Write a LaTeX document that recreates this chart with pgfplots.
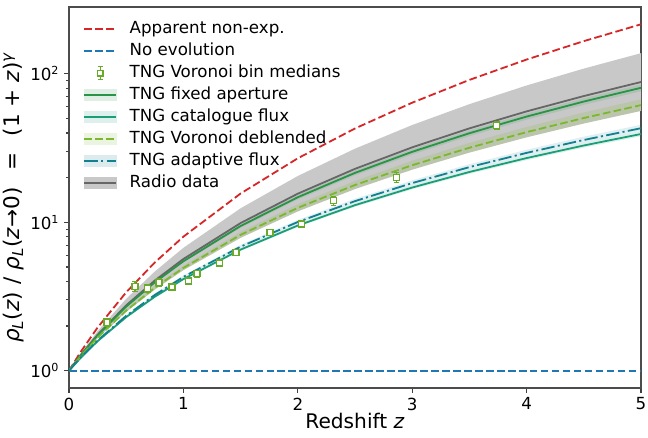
\documentclass[border=0pt]{standalone}
\usepackage{fontspec}
\setmainfont{DejaVu Sans}
\usepackage{pgfplots}
\usepackage{pgfplotstable}
\pgfplotsset{compat=1.18}
\usepgfplotslibrary{fillbetween}

\definecolor{cred}{HTML}{D62728}
\definecolor{cblue}{HTML}{1F77B4}
\definecolor{cmed}{HTML}{6AAA2A}
\definecolor{cfa}{HTML}{2A9446}
\definecolor{ccf}{HTML}{1B9E77}
\definecolor{cvd}{HTML}{7CB82F}
\definecolor{cad}{HTML}{13808F}
\definecolor{crad}{HTML}{666666}
\definecolor{cradband}{HTML}{C8C8C8}

\pgfplotstableread{
z g30 g275 g25 g225 g245 falo fahi g23 g235 g21 adlo adhi g205 cflo cfhi
0 1 1 1 1 1 1 1 1 1 1 1 1 1 1 1
0.1 1.331 1.2997 1.2691 1.2392 1.2631 1.2595 1.2667 1.2451 1.2510 1.2216 1.2181 1.2251 1.2158 1.2135 1.2181
0.25 1.953 1.8471 1.7469 1.6521 1.7275 1.7160 1.7391 1.6706 1.6893 1.5978 1.5871 1.6085 1.5800 1.5730 1.5871
0.5 3.375 3.0497 2.7557 2.4901 2.7004 2.6678 2.7334 2.5411 2.5931 2.3431 2.3148 2.3718 2.2961 2.2776 2.3148
0.75 5.359 4.6597 4.0513 3.5224 3.9395 3.8739 4.0062 3.6223 3.7251 3.2388 3.1849 3.2936 3.1494 3.1143 3.1848
1 8 6.7272 5.6569 4.7568 5.4642 5.3518 5.5790 4.9246 5.0983 4.2871 4.1989 4.3772 4.1411 4.0841 4.1989
1.5 15.625 12.426 9.8821 7.8590 9.4396 9.1836 9.7027 8.2274 8.6130 6.8496 6.6639 7.0405 6.5430 6.4242 6.6640
2 27 20.515 15.588 11.845 14.755 14.277 15.250 12.514 13.221 10.045 9.7193 10.382 9.5082 9.3016 9.7194
2.5 42.875 31.347 22.918 16.756 21.526 20.732 22.351 17.839 18.992 13.885 13.373 14.417 13.042 12.719 13.373
3 64 45.255 32 22.627 29.857 28.641 31.125 24.251 25.992 18.379 17.630 19.160 17.148 16.679 17.630
3.5 91.125 62.566 42.957 29.494 39.845 38.087 41.684 31.798 34.282 23.537 22.498 24.624 21.832 21.185 22.499
4 125 83.593 55.902 37.384 51.580 49.148 54.132 40.517 43.912 29.365 27.981 30.818 27.095 26.237 27.981
4.5 166.375 108.64 70.943 46.325 65.147 61.899 68.566 50.447 54.936 35.873 34.084 37.756 32.942 31.838 34.084
5 216 138.01 88.182 56.343 80.625 76.405 85.078 61.624 67.400 43.065 40.811 45.444 39.374 37.988 40.810
}\curves

\pgfplotstableread{
z y e
0.332 2.12 0.12
0.577 3.69 0.28
0.684 3.56 0.22
0.787 3.93 0.22
0.900 3.67 0.22
1.046 4.02 0.22
1.119 4.51 0.25
1.314 5.32 0.28
1.460 6.28 0.25
1.757 8.52 0.30
2.034 9.74 0.35
2.311 14.0 1.0
2.864 20.1 1.5
3.739 45.0 3.0
}\medians

\begin{document}
\begin{tikzpicture}
\begin{axis}[
  name=ax,
  scale only axis,
  width=411.84pt, height=274.32pt,
  xmin=0, xmax=5,
  ymode=log, ymin=0.764, ymax=282.6,
  xtick={0,1,2,3,4,5},
  xticklabels={0,1,2,3,4,5},
  ytick={1,10,100},
  yticklabels={10\textsuperscript{0},10\textsuperscript{1},10\textsuperscript{2}},
  tick align=outside,
  tick pos=left,
  major tick length=3.5pt,
  minor tick length=2pt,
  every tick/.style={black!75, line width=0.8pt},
  axis line style={black!70, line width=0.8pt},
  ticklabel style={font=\fontsize{12}{14}\selectfont},
  xlabel style={font=\fontsize{14.5}{16}\selectfont, yshift=5pt},
  ylabel style={font=\fontsize{15.5}{17}\selectfont, at={(ticklabel cs:0.5,-2pt)}},
  xlabel={Redshift \textit{z}},
  ylabel={\textit{ρ}\textsubscript{\textit{L}}(\textit{z})\hspace{5pt}/\hspace{5pt}\textit{ρ}\textsubscript{\textit{L}}(\textit{z}→0)\hspace{12pt}=\hspace{12pt}(1 + \textit{z})\textsuperscript{\textit{γ}}},
  legend cell align=left,
  legend style={at={(axis description cs:0,1)}, anchor=north west,
    xshift=10.3pt, yshift=-10.2pt, draw=none, fill=none,
    inner sep=0pt, row sep=4.84pt, column sep=9.1pt,
    nodes={inner sep=0pt, text height=8.6pt, text depth=2.4pt},
    font=\fontsize{12}{14}\selectfont},
]
% legend entries
\addlegendimage{legend image code/.code={\draw[cred, line width=1.3pt, dash pattern=on 5.5pt off 2.4pt] (0pt,0pt) -- (22.8pt,0pt);}}
\addlegendentry{Apparent non-exp.}
\addlegendimage{legend image code/.code={\draw[cblue, line width=1.3pt, dash pattern=on 5.5pt off 2.4pt] (0pt,0pt) -- (22.8pt,0pt);}}
\addlegendentry{No evolution}
\addlegendimage{legend image code/.code={\draw[cmed, line width=0.8pt] (11.4pt,-4.8pt) -- (11.4pt,4.8pt) (9.6pt,-4.8pt) -- (13.2pt,-4.8pt) (9.6pt,4.8pt) -- (13.2pt,4.8pt); \draw[cmed, fill=white, line width=1pt] (9.4pt,-2pt) rectangle (13.4pt,2pt);}}
\addlegendentry{TNG Voronoi bin medians}
\addlegendimage{legend image code/.code={\fill[cfa!15] (0pt,-3.9pt) rectangle (22.8pt,3.9pt); \draw[cfa, line width=1.3pt] (0pt,0pt) -- (22.8pt,0pt);}}
\addlegendentry{TNG fixed aperture}
\addlegendimage{legend image code/.code={\fill[ccf!15] (0pt,-3.9pt) rectangle (22.8pt,3.9pt); \draw[ccf, line width=1.3pt] (0pt,0pt) -- (22.8pt,0pt);}}
\addlegendentry{TNG catalogue flux}
\addlegendimage{legend image code/.code={\fill[cvd!15] (0pt,-3.9pt) rectangle (22.8pt,3.9pt); \draw[cvd, line width=1.3pt, dash pattern=on 5.5pt off 2.4pt] (0pt,0pt) -- (22.8pt,0pt);}}
\addlegendentry{TNG Voronoi deblended}
\addlegendimage{legend image code/.code={\fill[cad!15] (0pt,-3.9pt) rectangle (22.8pt,3.9pt); \draw[cad, line width=1.3pt, dash pattern=on 9.6pt off 2.4pt on 1.5pt off 2.4pt] (0pt,0pt) -- (22.8pt,0pt);}}
\addlegendentry{TNG adaptive flux}
\addlegendimage{legend image code/.code={\fill[cradband] (0pt,-3.9pt) rectangle (22.8pt,3.9pt); \draw[crad, line width=1.3pt] (0pt,0pt) -- (22.8pt,0pt);}}
\addlegendentry{Radio data}

% bands
\addplot[draw=none, forget plot, name path=radlo] table[x=z, y=g225] {\curves};
\addplot[draw=none, forget plot, name path=radhi] table[x=z, y=g275] {\curves};
\addplot[fill=cradband, draw=none, forget plot] fill between[of=radlo and radhi];

\addplot[draw=none, forget plot, name path=falo] table[x=z, y=falo] {\curves};
\addplot[draw=none, forget plot, name path=fahi] table[x=z, y=fahi] {\curves};
\addplot[fill=cfa, fill opacity=0.15, draw=none, forget plot] fill between[of=falo and fahi];

\addplot[draw=none, forget plot, name path=cflo] table[x=z, y=cflo] {\curves};
\addplot[draw=none, forget plot, name path=cfhi] table[x=z, y=cfhi] {\curves};
\addplot[fill=ccf, fill opacity=0.15, draw=none, forget plot] fill between[of=cflo and cfhi];

\addplot[draw=none, forget plot, name path=vdlo] table[x=z, y=g225] {\curves};
\addplot[draw=none, forget plot, name path=vdhi] table[x=z, y=g235] {\curves};
\addplot[fill=cvd, fill opacity=0.18, draw=none, forget plot] fill between[of=vdlo and vdhi];

\addplot[draw=none, forget plot, name path=adlo] table[x=z, y=adlo] {\curves};
\addplot[draw=none, forget plot, name path=adhi] table[x=z, y=adhi] {\curves};
\addplot[fill=cad, fill opacity=0.13, draw=none, forget plot] fill between[of=adlo and adhi];

% lines
\addplot[cred, line width=1.3pt, dash pattern=on 5.5pt off 2.4pt, forget plot] table[x=z, y=g30] {\curves};
\addplot[cblue, line width=1.3pt, dash pattern=on 5.5pt off 2.4pt, forget plot] coordinates {(0,1) (5,1)};
\addplot[crad, line width=1.3pt, forget plot] table[x=z, y=g25] {\curves};
\addplot[cfa, line width=1.3pt, forget plot] table[x=z, y=g245] {\curves};
\addplot[ccf, line width=1.3pt, forget plot] table[x=z, y=g205] {\curves};
\addplot[cvd, line width=1.3pt, dash pattern=on 5.5pt off 2.4pt, forget plot] table[x=z, y=g23] {\curves};
\addplot[cad, line width=1.3pt, dash pattern=on 9.6pt off 2.4pt on 1.5pt off 2.4pt, forget plot] table[x=z, y=g21] {\curves};

% medians
\addplot[cmed, forget plot, only marks, mark=square*, mark size=2.2pt, line width=1pt,
  mark options={fill=white, draw=cmed},
  error bars/.cd, y dir=both, y explicit,
  error bar style={cmed, line width=0.8pt},
  error mark options={cmed, rotate=90, mark size=2pt, line width=0.8pt}]
  table[x=z, y=y, y error=e] {\medians};
\end{axis}
\pgfresetboundingbox
\path ([shift={(-49.68pt,-35.28pt)}]ax.south west) rectangle ([shift={(5.04pt,5.04pt)}]ax.north east);
\end{tikzpicture}
\end{document}
